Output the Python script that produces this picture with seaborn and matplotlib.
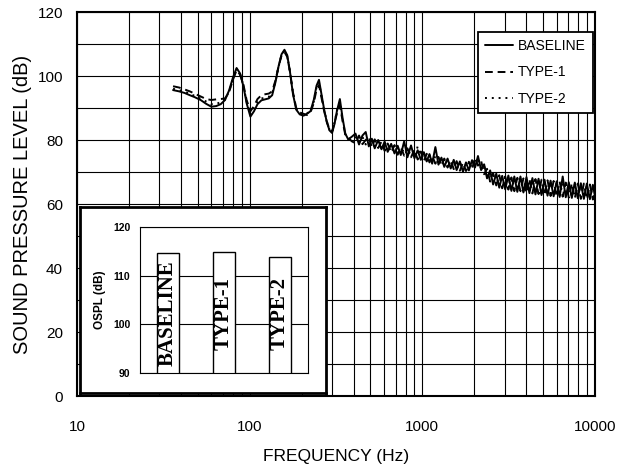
import numpy as np
import pandas as pd
import matplotlib
matplotlib.use("Agg")
import matplotlib.pyplot as plt
from matplotlib.ticker import FixedLocator, FixedFormatter, LogLocator, NullFormatter
import seaborn as sns

# Narrow-band spectra (Hz, dB)
freq_hz = [
    36, 39, 42, 45, 48, 52, 56, 60, 64, 68,
    72, 76, 80, 84, 88, 92, 96, 101, 106, 111,
    117, 123, 129, 135, 141, 147, 153, 159, 165, 171,
    178, 186, 195, 205, 215, 225, 235, 244, 252, 260,
    270, 280, 290, 300, 310, 320, 333, 345, 358, 372,
    390,
    410, 430, 450, 470, 490, 510, 530, 555, 580, 605,
    630, 660, 690, 720, 750, 785, 820, 860, 900, 940,
    980, 1020, 1060, 1100, 1140, 1190, 1240, 1290, 1340, 1400,
    1460, 1520, 1580, 1650, 1720, 1790, 1860, 1940, 2020, 2100,
    2190, 2280, 2370, 2470, 2570, 2680, 2790, 2900, 3020, 3150,
    3280, 3410, 3550, 3700, 3850, 4010, 4170, 4340, 4520, 4710,
    4900, 5100, 5310, 5530, 5760, 6000, 6240, 6500, 6770, 7050,
    7340, 7640, 7950, 8280, 8620, 8970, 9340, 9720, 10000,
]

baseline_db = [
    95.6, 95.2, 94.7, 94.0, 93.4, 92.5, 91.3, 90.4, 90.6, 91.2,
    92.5, 95.5, 99.5, 102.5, 100.8, 96.8, 91.5, 87.3, 89.0, 91.2,
    92.4, 92.7, 93.0, 94.0, 98.0, 103.0, 106.8, 108.2, 106.5, 101.5,
    94.5, 89.5, 88.0, 87.6, 88.2, 89.0, 92.5, 97.0, 98.8, 94.5,
    89.5, 85.5, 83.0, 82.2, 85.0, 89.0, 92.8, 87.0, 82.0, 80.2,
    81.0,
    82.0, 78.6, 81.4, 82.5, 78.0, 80.4, 77.4, 80.0, 77.1, 79.5,
    76.3, 78.8, 75.8, 78.2, 75.3, 79.6, 74.6, 78.3, 74.3, 76.8,
    73.8, 76.2, 73.3, 75.6, 72.6, 77.8, 72.3, 74.5, 71.6, 74.2,
    71.1, 73.8, 70.6, 73.3, 70.1, 73.0, 70.5, 73.7, 71.4, 75.0,
    70.6, 72.4, 68.0, 70.5, 66.1, 69.5, 65.1, 68.8, 64.6, 68.9,
    64.1, 68.6, 63.8, 68.6, 63.6, 68.4, 63.4, 68.1, 63.0, 67.9,
    62.8, 67.6, 62.6, 67.3, 62.4, 67.1, 62.2, 68.6, 62.1, 66.8,
    61.9, 66.7, 61.8, 66.5, 61.6, 66.4, 61.5, 66.0, 62.4,
]

type1_db = [
    96.8, 96.4, 95.8, 95.2, 94.5, 93.6, 92.8, 92.5, 92.7, 92.8,
    93.0, 95.0, 98.8, 101.8, 100.4, 97.3, 92.5, 89.0, 90.6, 92.8,
    94.0, 94.3, 94.5, 95.2, 98.6, 103.0, 106.4, 107.5, 106.0, 101.5,
    95.0, 90.0, 88.6, 88.2, 87.8, 88.6, 91.5, 95.8, 97.2, 93.5,
    89.0, 85.6, 83.4, 82.6, 85.4, 88.2, 90.8, 86.0, 81.6, 80.8,
    79.6,
    79.0, 81.4, 78.7, 80.0, 81.0, 77.8, 80.2, 77.5, 79.5, 76.6,
    78.9, 76.1, 78.4, 75.4, 77.7, 75.1, 77.4, 74.6, 76.9, 73.9,
    76.4, 73.4, 75.7, 73.0, 75.0, 72.6, 74.7, 71.9, 74.2, 71.4,
    73.7, 70.9, 73.4, 70.4, 72.9, 70.3, 73.2, 70.8, 74.5, 72.0,
    73.5, 69.3, 71.0, 67.0, 69.7, 65.8, 69.0, 64.9, 68.6, 64.5,
    68.3, 64.0, 68.2, 64.0, 68.0, 63.4, 67.8, 63.3, 67.8, 63.1,
    67.6, 62.8, 67.4, 62.5, 67.2, 62.3, 67.0, 62.3, 66.7, 62.0,
    66.5, 61.8, 66.4, 61.6, 66.4, 61.5, 66.1, 61.4, 64.5,
]

type2_db = [
    96.0, 95.6, 95.1, 94.5, 93.8, 92.9, 92.0, 91.2, 91.3, 91.8,
    92.6, 95.2, 99.2, 102.2, 100.6, 97.0, 92.0, 88.0, 89.6, 91.8,
    93.0, 93.2, 93.5, 94.6, 98.2, 103.0, 106.6, 107.8, 106.2, 101.5,
    94.8, 89.8, 88.2, 88.0, 88.4, 88.8, 92.0, 96.5, 98.0, 94.0,
    89.3, 85.8, 83.2, 82.4, 85.5, 89.2, 91.8, 86.5, 81.8, 80.0,
    80.4,
    80.8, 79.4, 81.0, 78.6, 79.8, 79.4, 77.9, 79.6, 77.3, 79.0,
    76.8, 78.5, 76.2, 77.8, 75.6, 77.4, 75.2, 76.7, 74.6, 78.0,
    74.2, 75.9, 73.6, 75.3, 73.0, 74.9, 72.4, 74.1, 72.0, 73.8,
    71.5, 73.3, 70.9, 72.9, 70.5, 72.6, 70.4, 73.2, 72.0, 74.4,
    71.0, 71.9, 68.3, 69.9, 66.6, 68.9, 65.6, 68.3, 65.0, 68.2,
    64.6, 67.9, 64.3, 67.8, 64.0, 67.7, 63.8, 67.5, 63.6, 67.2,
    63.3, 67.0, 63.1, 66.8, 62.9, 66.6, 62.7, 66.4, 62.6, 66.2,
    62.4, 66.1, 62.3, 65.9, 62.1, 65.8, 62.0, 65.6, 63.2,
]

series_names = ["BASELINE", "TYPE-1", "TYPE-2"]
ospl_db = [114.6, 114.8, 113.8]

x_ticks = [10, 100, 1000, 10000]
x_tick_labels = ["10", "100", "1000", "10000"]
y_ticks = [0, 20, 40, 60, 80, 100, 120]
y_tick_labels = ["0", "20", "40", "60", "80", "100", "120"]
ospl_ticks = [90, 100, 110, 120]

sns.set_style("white")
plt.rcParams["font.family"] = ["Liberation Sans", "DejaVu Sans"]
plt.rcParams["text.color"] = "black"
plt.rcParams["axes.labelcolor"] = "black"
plt.rcParams["xtick.color"] = "black"
plt.rcParams["ytick.color"] = "black"

W, H = 629, 469


def px_rect(x0, y0, x1, y1):
    return [x0 / W, 1 - y1 / H, (x1 - x0) / W, (y1 - y0) / H]


fig = plt.figure(figsize=(W / 100, H / 100), dpi=100)
ax = fig.add_axes(px_rect(77, 12, 595, 396))

curves = pd.DataFrame({
    "freq": freq_hz * 3,
    "spl": baseline_db + type1_db + type2_db,
    "series": np.repeat(series_names, len(freq_hz)),
})
sns.lineplot(
    data=curves, x="freq", y="spl", style="series", style_order=series_names,
    dashes={"BASELINE": "", "TYPE-1": (4, 2.5), "TYPE-2": (1, 2.5)},
    color="black", linewidth=1.4, errorbar=None, legend=False, ax=ax, zorder=3,
)

ax.set_xscale("log")
ax.set_xlim(10, 10000)
ax.set_ylim(0, 120)
ax.xaxis.set_major_locator(FixedLocator(x_ticks))
ax.xaxis.set_major_formatter(FixedFormatter(x_tick_labels))
ax.xaxis.set_minor_locator(LogLocator(base=10, subs=range(2, 10)))
ax.xaxis.set_minor_formatter(NullFormatter())
ax.set_yticks(y_ticks)
ax.set_yticklabels(y_tick_labels)
ax.set_yticks(range(10, 120, 20), minor=True)
ax.grid(which="both", color="black", linewidth=0.8)
ax.tick_params(which="both", length=0)
ax.tick_params(axis="x", pad=17, labelsize=11)
ax.tick_params(axis="y", pad=10, labelsize=11)
for s in ax.spines.values():
    s.set_color("black")
    s.set_linewidth(1.5)
ax.set_xlabel("FREQUENCY (Hz)", fontsize=12.5, labelpad=11)
ax.set_ylabel("SOUND PRESSURE LEVEL (dB)", fontsize=14.5, labelpad=4)

leg = ax.legend(
    ax.lines[:3], series_names, loc="upper right", bbox_to_anchor=(0.996, 0.948),
    borderaxespad=0, frameon=True, fancybox=False, edgecolor="black", framealpha=1,
    fontsize=10, handlelength=2.0, handletextpad=0.4, labelspacing=0.9, borderpad=0.5,
)
leg.get_frame().set_linewidth(1.3)

# Overall level inset
box = fig.add_axes(px_rect(80, 207, 326, 393))
box.set_xticks([])
box.set_yticks([])
box.set_facecolor("white")
for s in box.spines.values():
    s.set_color("black")
    s.set_linewidth(2.0)

bar_ax = fig.add_axes(px_rect(140, 227, 308, 373))
sns.barplot(x=series_names, y=ospl_db, ax=bar_ax, color="white", saturation=1,
            edgecolor="black", linewidth=1.0, width=0.4, zorder=2)
bar_ax.set_ylim(90, 120)
bar_ax.set_xlim(-0.5, 2.5)
bar_ax.set_yticks(ospl_ticks)
bar_ax.set_xticks([])
bar_ax.set_xlabel("")
bar_ax.set_ylabel("OSPL (dB)", fontsize=8.5, labelpad=5, fontweight="bold")
bar_ax.yaxis.grid(True, color="black", linewidth=0.8)
bar_ax.set_axisbelow(True)
bar_ax.tick_params(length=0, labelsize=7.5, pad=7)
for lab in bar_ax.get_yticklabels():
    lab.set_fontweight("bold")
for s in bar_ax.spines.values():
    s.set_color("black")
    s.set_linewidth(0.8)
for i, name in enumerate(series_names):
    bar_ax.text(i, 102.2, name, rotation=90, ha="center", va="center",
                family="Liberation Serif", fontweight="bold", fontsize=15, zorder=3)

fig.savefig("out.png", dpi=100)
